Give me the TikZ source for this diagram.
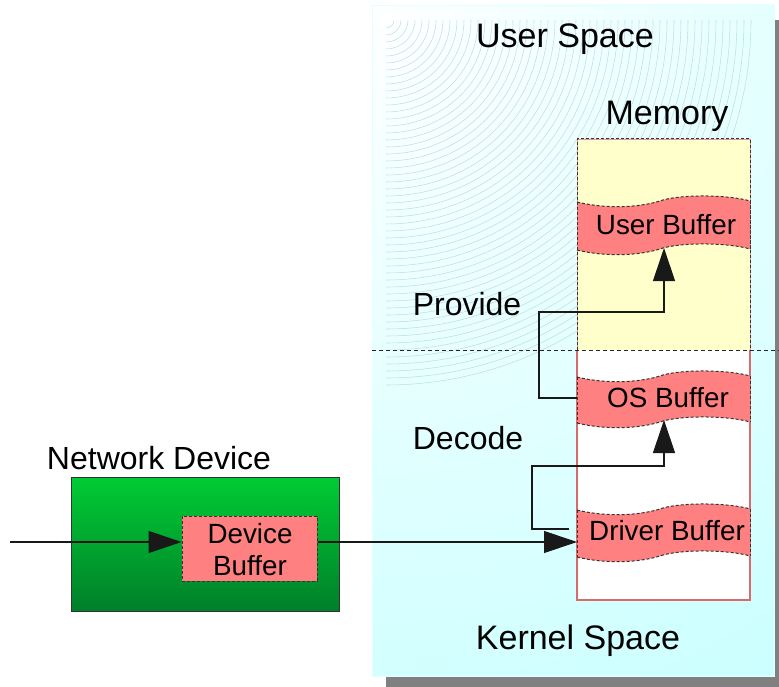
\documentclass[tikz,border=0pt]{standalone}
\usepackage{fontspec}
\setmainfont{Liberation Sans}
\usetikzlibrary{arrows.meta}
\definecolor{panelcyan}{HTML}{CCFFFF}
\definecolor{panelshadow}{HTML}{808080}
\definecolor{memyellow}{HTML}{FFFFCC}
\definecolor{buffill}{HTML}{FF8080}
\definecolor{bufedge}{HTML}{D86A6A}
\definecolor{greentop}{HTML}{00CC33}
\definecolor{greenbot}{HTML}{007F2A}
\definecolor{ringcol}{HTML}{BDE0E4}

% wavy buffer band inside the memory column: #1 = top edge y, #2 = bottom edge y (left side)
\newcommand\wavebuf[2]{%
  \fill[buffill] (577,#1) .. controls (605,#1+7) and (640,#1+6) .. (663,#1-2)
     .. controls (685,#1-8) and (730,#1-7) .. (750,#1-1) -- (750,#2-1)
     .. controls (730,#2-7) and (685,#2-8) .. (663,#2-2)
     .. controls (640,#2+6) and (605,#2+7) .. (577,#2) -- cycle;
  \draw[dashedge] (577,#1) .. controls (605,#1+7) and (640,#1+6) .. (663,#1-2)
     .. controls (685,#1-8) and (730,#1-7) .. (750,#1-1);
  \draw[dashedge] (577,#2) .. controls (605,#2+7) and (640,#2+6) .. (663,#2-2)
     .. controls (685,#2-8) and (730,#2-7) .. (750,#2-1);
  \draw[dashedge] (577,#1) -- (577,#2);
  \draw[dashedge] (750,#1-1) -- (750,#2-1);
}

\begin{document}
\begin{tikzpicture}[x=1pt,y=-1pt,
  flow/.style={line width=1.1pt, draw=black!90, -{Triangle[length=33pt,width=22pt]}},
  lbl/.style={anchor=base, inner sep=0pt, font=\fontsize{34}{40}\selectfont},
  lblsm/.style={anchor=base, inner sep=0pt, font=\fontsize{32}{38}\selectfont},
  buftxt/.style={anchor=base, inner sep=0pt, font=\fontsize{27.8}{32}\selectfont},
  dashedge/.style={draw=black!80, line width=1pt, dash pattern=on 3pt off 2pt},
  pinkedge/.style={draw=bufedge, line width=1.1pt}]

\useasboundingbox (0,0) rectangle (779,687);
\begin{scope}
\clip (0,0) rectangle (779,687);

% address-space panel with drop shadow
\fill[panelshadow] (386,20) rectangle (790,695);
\fill[panelcyan] (372,5) rectangle (774,676);
\begin{scope}
  \clip (372,5) rectangle (774,676);
  \shade[inner color=white, outer color=panelcyan] (372,5) circle (760);
  \foreach \r in {8,15,...,365}
    \draw[ringcol, line width=0.55pt] (386+\r,20) arc[start angle=0, end angle=90, radius=\r];
\end{scope}
\draw[white!50!panelcyan, line width=0.8pt] (372,5) rectangle (774,676);

% memory column: user half and kernel half
\fill[memyellow] (577,139) rectangle (750,350);
\draw[draw=bufedge!70, line width=0.9pt] (577,350) -- (577,139) -- (750,139) -- (750,350);
\draw[dashedge] (577,350) -- (577,139) -- (750,139) -- (750,350);
\fill[white] (577,350) rectangle (750,600);
\draw[pinkedge] (577,350) -- (577,600) -- (750,600) -- (750,350);

% user / kernel boundary
\draw[draw=black!85, line width=0.9pt, dash pattern=on 4pt off 3pt] (372,350) -- (779,350);

% buffers in memory
\wavebuf{202}{250}
\wavebuf{377}{423}
\wavebuf{510}{557}

% network device
\node[draw=black!80, line width=1pt, top color=greentop, bottom color=greenbot,
      minimum width=268pt, minimum height=134pt, inner sep=0pt] (netdev) at (205,544) {};
\node[fill=buffill, dashedge, minimum width=135pt, minimum height=65pt, inner sep=0pt]
      (devbuf) at (249.5,548.5) {};
\node[buftxt] (devtxt1) at (250,543) {Device};
\node[buftxt] (devtxt2) at (250,575) {Buffer};

% labels
\node[lbl] (userspace) at (565,48) {User Space};
\node[lbl] (memlbl) at (667,125) {Memory};
\node[lblsm] (provide) at (467,315) {Provide};
\node[lblsm] (decode) at (468,449) {Decode};
\node[lblsm] (netlbl) at (159,469) {Network Device};
\node[lbl] (kernel) at (578,649) {Kernel Space};
\node[buftxt] (usrtxt) at (666,234) {User Buffer};
\node[buftxt] (ostxt) at (668,407) {OS Buffer};
\node[buftxt] (drvtxt) at (667,540) {Driver Buffer};

% data path
\coordinate (src) at (10,542);
\coordinate (drvin) at (577,542);
\coordinate (drvstub) at (569,529);
\coordinate (dturn) at (532,466);
\coordinate (osbot) at (664,420);
\coordinate (osstub) at (577,398);
\coordinate (pturn) at (539,312);
\coordinate (usrbot) at (664,248);

\draw[flow] (src) -- (src -| devbuf.west);
\draw[flow] (src -| devbuf.east) -- (drvin);
\draw[flow] (drvstub) -| (dturn) -| (osbot);
\draw[flow] (osstub) -| (pturn) -| (usrbot);
\end{scope}
\end{tikzpicture}
\end{document}
